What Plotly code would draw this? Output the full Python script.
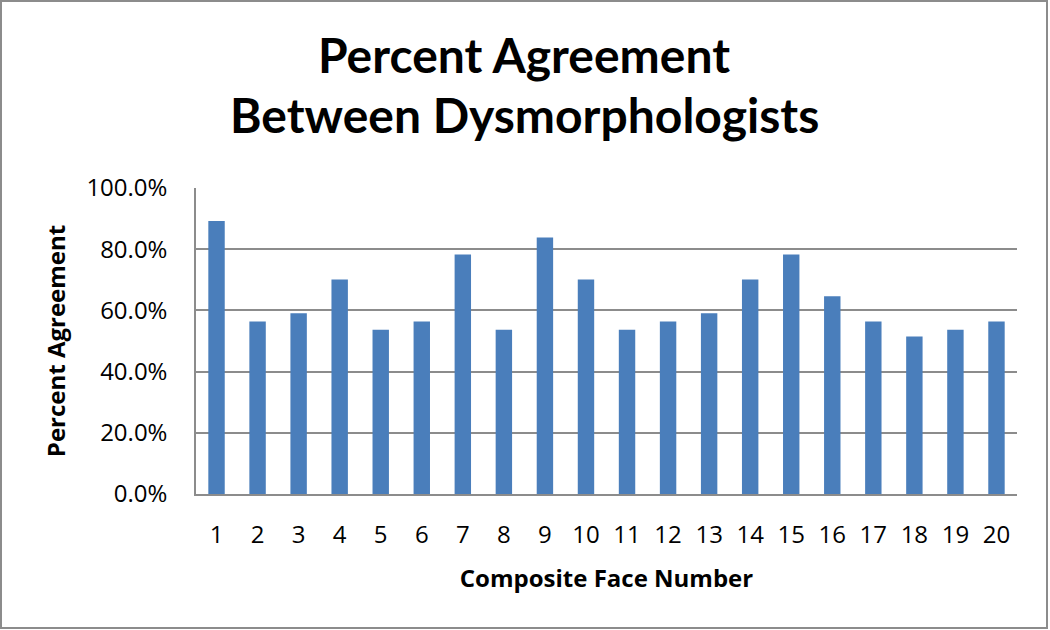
import plotly.graph_objects as go

faces = [str(i) for i in range(1, 21)]
agreement = [89.2, 56.4, 59.1, 70.1, 53.7, 56.4, 78.3, 53.7, 83.8, 70.1,
             53.7, 56.4, 59.1, 70.1, 78.3, 64.6, 56.4, 51.5, 53.7, 56.4]
y_ticks = [0, 20, 40, 60, 80, 100]
y_tick_labels = ["0.0%", "20.0%", "40.0%", "60.0%", "80.0%", "100.0%"]
title_lines = ["Percent Agreement", "Between Dysmorphologists"]

W, H = 1050, 630
ML, MR, MT, MB = 196, 33, 188, 136
pw = W - ML - MR
ph = H - MT - MB


def px_x(x):
    return (x - ML) / pw


def px_y(y):
    return (H - MB - y) / ph


fig = go.Figure(go.Bar(x=faces, y=agreement, marker_color="#4A7EBB",
                       marker_line_width=0))

gray = "#8C8C8C"
tick_font = dict(size=24, family="Open Sans, sans-serif", color="black")
axis_title_font = dict(size=24, family="Open Sans, sans-serif", color="black")
fig.update_layout(
    width=W, height=H,
    margin=dict(l=ML, r=MR, t=MT, b=MB, pad=0),
    paper_bgcolor="white", plot_bgcolor="white",
    bargap=0.6,
    showlegend=False,
    font=dict(family="Open Sans, sans-serif", color="black"),
    xaxis=dict(
        type="category",
        showline=True, linecolor=gray, linewidth=1.5,
        showgrid=False,
        ticks="outside", ticklen=18, tickcolor="rgba(0,0,0,0)",
        tickfont=tick_font,
        title=dict(text="<b>Composite Face Number</b>", font=axis_title_font, standoff=22),
    ),
    yaxis=dict(
        range=[0, 100],
        tickvals=y_ticks, ticktext=y_tick_labels,
        showline=True, linecolor=gray, linewidth=1.5,
        showgrid=True, gridcolor=gray, gridwidth=1.5,
        zeroline=False,
        ticks="outside", ticklen=22, tickcolor="rgba(0,0,0,0)",
        tickfont=tick_font,
        title=dict(text="<b>Percent Agreement</b>", font=axis_title_font, standoff=14),
    ),
)

title_centers = [54, 115]
for line, yc in zip(title_lines, title_centers):
    fig.add_annotation(text="<b>" + line + "</b>", xref="paper", yref="paper",
                       x=px_x(W / 2 - 1), y=px_y(yc), xanchor="center", yanchor="middle",
                       showarrow=False,
                       font=dict(size=48, family="Lato, Open Sans, sans-serif", color="black"))

fig.add_shape(type="rect", xref="paper", yref="paper",
              x0=px_x(1), x1=px_x(1047), y0=px_y(628), y1=px_y(1),
              line=dict(color=gray, width=2), layer="below")

fig.write_html("out.html", config={"displayModeBar": False},
               post_script="document.body.style.margin='0';document.body.style.overflow='hidden';")
